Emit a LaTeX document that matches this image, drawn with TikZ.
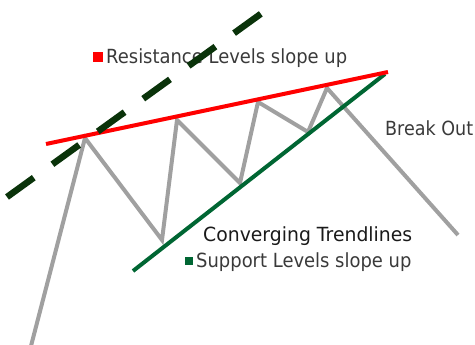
\documentclass[tikz,border=0pt]{standalone}
\usepackage{fontspec}
\usepackage{graphicx}
\setmainfont{DejaVu Sans}
\definecolor{txtgray}{HTML}{3A3A3A}
\definecolor{txtdark}{HTML}{1A1A1A}
\definecolor{zig}{HTML}{A0A0A0}
\definecolor{supgreen}{HTML}{006633}
\definecolor{dashgreen}{HTML}{0A330A}
\newcommand{\sq}[2]{\scalebox{#1}[1]{#2}}
\begin{document}
\begin{tikzpicture}[x=1pt,y=-1pt,
  zigline/.style={draw=zig,line width=4pt,line join=miter},
  resline/.style={draw=red,line width=4pt},
  supline/.style={draw=supgreen,line width=4pt},
  trendline/.style={draw=dashgreen,line width=6.5pt,dash pattern=on 33pt off 23pt},
  lbl/.style={text=txtgray,font=\fontsize{19.5}{22}\selectfont,inner sep=0pt,anchor=west},
  marker/.style={inner sep=0pt,minimum size=#1,anchor=center}]
\useasboundingbox (0,0) rectangle (475,345);
% zigzag price line
\coordinate (z0) at (31,346);
\coordinate (z1) at (85,138);
\coordinate (z2) at (162,240);
\coordinate (z3) at (177,120);
\coordinate (z4) at (240,183);
\coordinate (z5) at (258,102);
\coordinate (z6) at (308,132);
\coordinate (z7) at (327,88);
\coordinate (z8) at (458,235);
\draw[zigline] (z0) -- (z1) -- (z2) -- (z3) -- (z4) -- (z5) -- (z6) -- (z7) -- (z8);
% resistance and support
\coordinate (r0) at (46,144);
\coordinate (r1) at (388,72);
\coordinate (s0) at (133,271);
\coordinate (s1) at (385,74);
\draw[supline] (s0) -- (s1);
\draw[resline] (r0) -- (r1);
% labels
\node[marker=10pt,fill=red] (rsq) at (98,57) {};
\node[lbl] (rtxt) at (106,58) {\sq{0.92}{Resistance Levels slope up}};
\node[lbl,text=txtdark] (ctxt) at (203,236) {\sq{0.965}{Converging Trendlines}};
\node[marker=8.5pt,fill=supgreen] (ssq) at (189,261) {};
\node[lbl] (stxt) at (196,262) {\sq{0.92}{Support Levels slope up}};
\node[lbl] (btxt) at (385,128) {\sq{0.9}{Break Out}};
% dashed trendline
\coordinate (d0) at (7,197);
\coordinate (d1) at (262,13);
\draw[trendline] (d0) -- (d1);
\end{tikzpicture}
\end{document}
